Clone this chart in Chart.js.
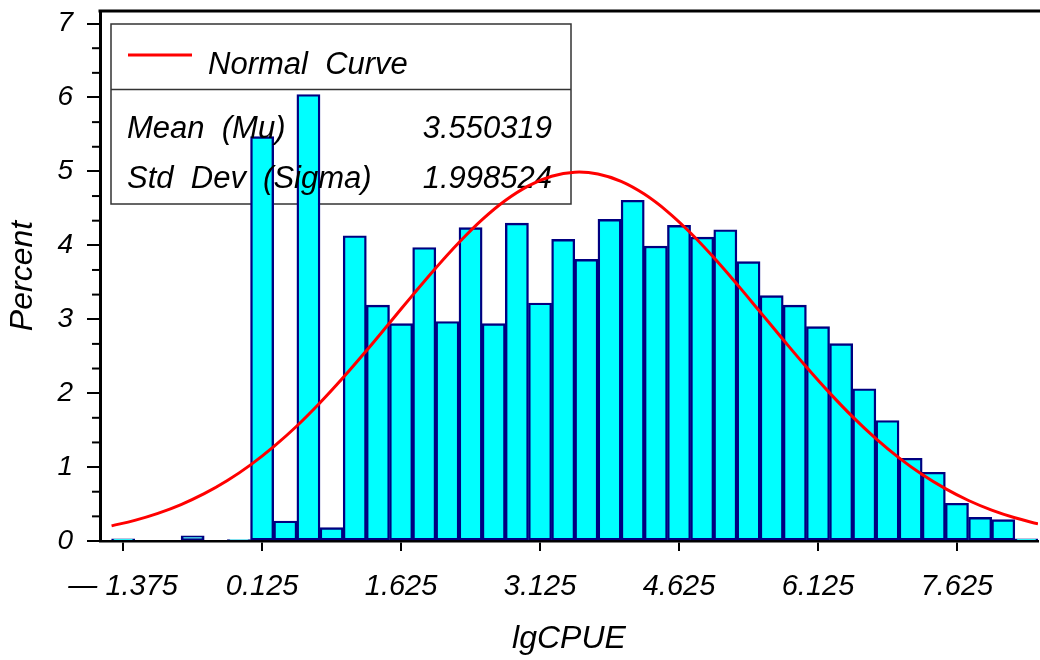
<!DOCTYPE html>
<html><head><meta charset="utf-8">
<script src="https://cdn.jsdelivr.net/npm/chart.js@4.4.1/dist/chart.umd.min.js"></script>
<style>html,body{margin:0;padding:0;background:#fff}#wrap{width:1040px;height:660px;position:relative}</style>
</head><body><div id="wrap"><canvas id="c"></canvas></div>
<script>
// ---- data ----
const binCenters = [-1.375,-1.125,-0.875,-0.625,-0.375,-0.125,0.125,0.375,0.625,0.875,
  1.125,1.375,1.625,1.875,2.125,2.375,2.625,2.875,3.125,3.375,
  3.625,3.875,4.125,4.375,4.625,4.875,5.125,5.375,5.625,5.875,
  6.125,6.375,6.625,6.875,7.125,7.375,7.625,7.875,8.125,8.375];
const percents = [0.03,null,null,0.07,null,0.02,5.47,0.27,6.04,0.18,
  4.13,3.19,2.94,3.97,2.97,4.24,2.94,4.30,3.22,4.08,
  3.81,4.35,4.61,3.99,4.27,4.11,4.21,3.78,3.32,3.19,
  2.90,2.67,2.06,1.63,1.12,0.93,0.51,0.32,0.29,0.03];
const curveX = [-1.5,-1.25,-1.0,-0.75,-0.5,-0.25,0,0.25,0.5,0.75,
  1.0,1.25,1.5,1.75,2.0,2.25,2.5,2.75,3.0,3.25,
  3.5,3.75,4.0,4.25,4.5,4.75,5.0,5.25,5.5,5.75,
  6.0,6.25,6.5,6.75,7.0,7.25,7.5,7.75,8.0,8.25,8.5];
const curveY = [0.205,0.279,0.374,0.493,0.640,0.818,1.030,1.277,1.556,1.870,
  2.211,2.573,2.949,3.326,3.694,4.038,4.347,4.606,4.804,4.934,
  4.989,4.965,4.865,4.693,4.457,4.167,3.835,3.475,3.100,2.723,
  2.354,2.004,1.679,1.385,1.125,0.899,0.708,0.548,0.418,0.314,0.232];
const xTickValues = [-1.375,0.125,1.625,3.125,4.625,6.125,7.625];
const xTickLabels = ['\u2014 1.375','0.125','1.625','3.125','4.625','6.125','7.625'];
const yTickValues = [0,1,2,3,4,5,6,7];
const legendLabel = 'Normal  Curve';
const statLabels = ['Mean  (Mu)','Std  Dev  (Sigma)'];
const statValues = ['3.550319','1.998524'];

const FONT = '"Liberation Sans", Arial, sans-serif';

const decor = {
  id: 'decor',
  beforeDatasetsDraw(chart) {
    const ctx = chart.ctx;
    ctx.save();
    ctx.fillStyle = '#fff';
    ctx.fillRect(111, 24, 460, 180);
    ctx.strokeStyle = '#333';
    ctx.lineWidth = 1.5;
    ctx.strokeRect(111, 24, 460, 180);
    ctx.beginPath(); ctx.moveTo(111, 89.5); ctx.lineTo(571, 89.5); ctx.stroke();
    ctx.strokeStyle = '#ff0000';
    ctx.lineWidth = 3;
    ctx.beginPath(); ctx.moveTo(128, 55); ctx.lineTo(192, 55); ctx.stroke();
    ctx.restore();
  },
  afterDatasetDraw(chart, args) {
    if (args.meta.type !== 'bar') return;
    const ctx = chart.ctx;
    ctx.save();
    ctx.fillStyle = '#000';
    ctx.font = 'italic 31px ' + FONT;
    ctx.textBaseline = 'alphabetic';
    ctx.textAlign = 'left';
    ctx.fillText(legendLabel, 208, 74);
    ctx.fillText(statLabels[0], 127, 138);
    ctx.fillText(statLabels[1], 127, 188);
    ctx.textAlign = 'right';
    ctx.fillText(statValues[0], 552, 138);
    ctx.fillText(statValues[1], 552, 188);
    ctx.restore();
  },
  afterDraw(chart) {
    const ctx = chart.ctx, ca = chart.chartArea, y = chart.scales.y;
    ctx.save();
    ctx.strokeStyle = '#000';
    ctx.lineWidth = 3;
    ctx.beginPath(); ctx.moveTo(ca.left - 1.5, ca.top); ctx.lineTo(chart.width, ca.top); ctx.stroke();
    ctx.lineWidth = 2;
    for (let i = 0; i <= 21; i++) {
      if (i % 3 === 0) continue;
      const py = y.getPixelForValue(i / 3);
      ctx.beginPath(); ctx.moveTo(ca.left - 8, py); ctx.lineTo(ca.left, py); ctx.stroke();
    }
    ctx.restore();
  }
};

new Chart(document.getElementById('c'), {
  type: 'bar',
  data: {
    datasets: [
      {
        type: 'line',
        label: 'Normal Curve',
        data: curveX.map((x, i) => ({x, y: curveY[i]})),
        borderColor: '#ff0000',
        borderWidth: 3,
        pointRadius: 0,
        tension: 0.4,
        fill: false,
        order: 1
      },
      {
        type: 'bar',
        label: 'lgCPUE',
        data: binCenters.map((x, i) => ({x, y: percents[i]})),
        backgroundColor: '#00ffff',
        borderColor: '#000080',
        borderWidth: 2.4,
        borderSkipped: false,
        barPercentage: 1,
        categoryPercentage: 1,
        order: 2
      }
    ]
  },
  options: {
    responsive: true,
    maintainAspectRatio: false,
    animation: false,
    devicePixelRatio: 1,
    layout: {padding: {top: 11, right: 2, left: 0, bottom: 0}},
    plugins: {legend: {display: false}, tooltip: {enabled: false}},
    scales: {
      x: {
        type: 'linear',
        min: -1.625, max: 8.5,
        offset: false,
        afterBuildTicks: s => { s.ticks = xTickValues.map(v => ({value: v})); },
        afterFit: s => { s.height = 119; s.paddingLeft = 0; s.paddingRight = 0; },
        ticks: {
          callback: (v, i) => xTickLabels[i],
          font: {family: FONT, size: 29, style: 'italic'},
          color: '#000', padding: 19, maxRotation: 0, autoSkip: false
        },
        grid: {drawOnChartArea: false, offset: false, tickLength: 10, color: '#000', lineWidth: 2},
        border: {color: '#000', width: 2.5},
        title: {display: true, text: 'lgCPUE', color: '#000',
          font: {family: FONT, size: 32, style: 'italic'}, padding: {top: 0, bottom: 2}}
      },
      y: {
        min: 0, max: 7.17,
        afterBuildTicks: s => { s.ticks = yTickValues.map(v => ({value: v})); },
        afterFit: s => { s.width = 100; s.paddingTop = 0; s.paddingBottom = 0; },
        ticks: {
          callback: v => String(v),
          font: {family: FONT, size: 28, style: 'italic'},
          color: '#000', padding: 14
        },
        grid: {drawOnChartArea: false, tickLength: 13, color: '#000', lineWidth: 2},
        border: {color: '#000', width: 3},
        title: {display: true, text: 'Percent', color: '#000',
          font: {family: FONT, size: 32, style: 'italic'}, padding: {top: 4, bottom: 0}}
      }
    }
  },
  plugins: [decor]
});
</script>
</body></html>
